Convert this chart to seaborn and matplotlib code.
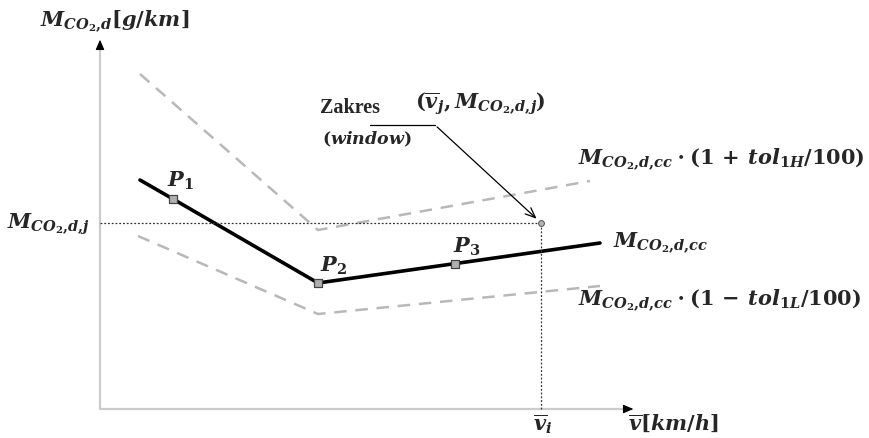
import matplotlib
matplotlib.use("Agg")
import matplotlib.pyplot as plt
import seaborn as sns
import pandas as pd

# ---- data (arbitrary units: speed v, emission M) ----
solid_v = [10, 18.25, 54.5, 88.75, 125]
solid_m = [114.5, 105, 63, 72.7, 83]
upper_v = [10, 54.5, 122.5]
upper_m = [167.5, 89.5, 114]
lower_v = [9.5, 54.5, 125]
lower_m = [86.5, 47.5, 61.5]
point_names = ["$P_1$", "$P_2$", "$P_3$"]
point_v = [18.25, 54.5, 88.75]
point_m = [105, 63, 72.7]
target_v = 110.25
target_m = 93

sns.set_theme(style="white")
plt.rcParams["mathtext.fontset"] = "custom"
plt.rcParams["mathtext.rm"] = "DejaVu Serif:bold"
plt.rcParams["mathtext.it"] = "DejaVu Serif:italic:bold"
plt.rcParams["mathtext.bf"] = "DejaVu Serif:bold"
plt.rcParams["font.family"] = ["Liberation Serif", "DejaVu Sans"]

fig = plt.figure(figsize=(8.7, 4.39), dpi=100)
ax = fig.add_axes([0, 0, 1, 1])
ax.set_xlim(-25, 192.5)
ax.set_ylim(-14.5, 205)
ax.set_axis_off()

grey = "#b8b8b8"
df_solid = pd.DataFrame({"v": solid_v, "m": solid_m})
df_up = pd.DataFrame({"v": upper_v, "m": upper_m})
df_lo = pd.DataFrame({"v": lower_v, "m": lower_m})
sns.lineplot(data=df_up, x="v", y="m", ax=ax, color=grey, lw=1.8, sort=False,
             linestyle=(0, (5, 3.5)))
sns.lineplot(data=df_lo, x="v", y="m", ax=ax, color=grey, lw=1.8, sort=False,
             linestyle=(0, (5, 3.5)))
sns.lineplot(data=df_solid, x="v", y="m", ax=ax, color="black", lw=2.6, sort=False)

df_pts = pd.DataFrame({"v": point_v, "m": point_m})
sns.scatterplot(data=df_pts, x="v", y="m", ax=ax, marker="s", s=40,
                color="#b0b0b0", edgecolor="#444444", linewidth=0.9, zorder=5)

# axes lines
axis_grey = "#cccccc"
ax.plot([0, 0], [0, 183], color=axis_grey, lw=1.6, zorder=1)
ax.plot([0, 133], [0, 0], color=axis_grey, lw=1.6, zorder=1)
ax.annotate("", xy=(0, 186), xytext=(0, 181),
            arrowprops=dict(arrowstyle="-|>,head_length=0.5,head_width=0.22", color="black", lw=0.8))
ax.annotate("", xy=(134, 0), xytext=(131, 0),
            arrowprops=dict(arrowstyle="-|>,head_length=0.5,head_width=0.22", color="black", lw=0.8))

# dotted guides
ax.plot([0, target_v], [target_m, target_m], color="#333333", lw=0.9, linestyle=(0, (1.5, 1.5)))
ax.plot([target_v, target_v], [0, target_m], color="#333333", lw=0.9, linestyle=(0, (1.5, 1.5)))
ax.scatter([target_v], [target_m], s=18, color="#b0b0b0", edgecolor="#555555", linewidth=0.7, zorder=6)

# annotation pointer
ax.plot([67.5, 83.75], [142, 142], color="black", lw=0.9)
ax.annotate("", xy=(target_v - 0.6, target_m + 1.2), xytext=(83.75, 142),
            arrowprops=dict(arrowstyle="->,head_length=0.6,head_width=0.25", color="black", lw=0.9))

fs = 15
ax.text(-15, 194, r"$M_{CO_2{,}d}[g/km]$", fontsize=fs, ha="left", va="center")
ax.text(-2.5, 93, r"$M_{CO_2{,}d{,}j}$", fontsize=fs, ha="right", va="center")
ax.text(55, 151, "Zakres", fontsize=14.5, fontweight="bold", ha="left", va="center")
ax.text(55.5, 135.5, r"$\mathrm{(}window\mathrm{)}$", fontsize=12.5, ha="left", va="center")
ax.text(78.75, 153, r"$(\overline{v}_j, M_{CO_2{,}d{,}j})$", fontsize=fs, ha="left", va="center")
ax.text(119.5, 125, r"$M_{CO_2{,}d{,}cc}\cdot(1\,+\,tol_{1H}/100)$", fontsize=fs, ha="left", va="center")
ax.text(128.25, 83.5, r"$M_{CO_2{,}d{,}cc}$", fontsize=fs, ha="left", va="center")
ax.text(119.5, 54.5, r"$M_{CO_2{,}d{,}cc}\cdot(1\,-\,tol_{1L}/100)$", fontsize=fs, ha="left", va="center")
ax.text(110.75, -7, r"$\overline{v}_i$", fontsize=fs, ha="center", va="center")
ax.text(132, -7, r"$\overline{v}[km/h]$", fontsize=fs, ha="left", va="center")
label_offsets = [(-1.5, 9.5), (0.5, 9), (-0.5, 8.8)]
for name, v, m, (dx, dy) in zip(point_names, point_v, point_m, label_offsets):
    ax.text(v + dx, m + dy, name, fontsize=fs, ha="left", va="center")

fig.savefig("out.png", dpi=100)
